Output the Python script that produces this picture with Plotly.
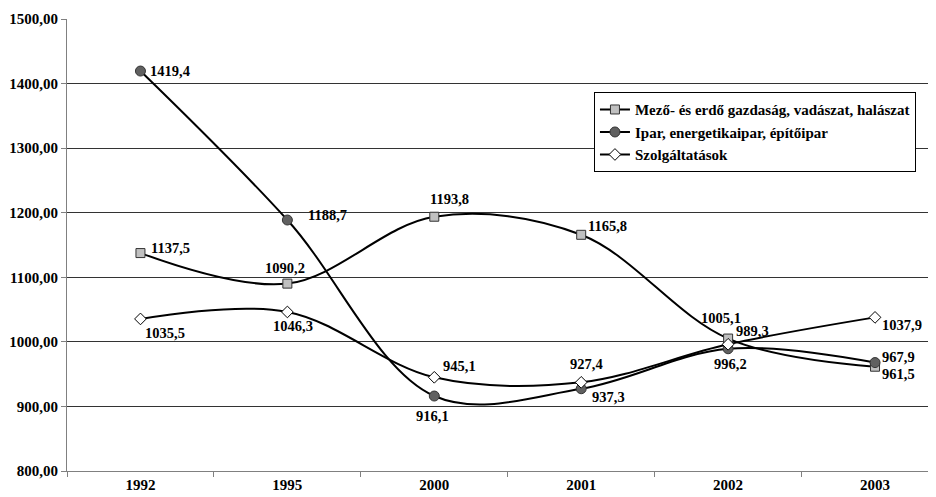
import plotly.graph_objects as go

years = ["1992", "1995", "2000", "2001", "2002", "2003"]
mezo = [1137.5, 1090.2, 1193.8, 1165.8, 1005.1, 961.5]
ipar = [1419.4, 1188.7, 916.1, 927.4, 989.3, 967.9]
szolg = [1035.5, 1046.3, 945.1, 937.3, 996.2, 1037.9]
names = ["Mező- és erdő gazdaság, vadászat, halászat",
         "Ipar, energetikaipar, építőipar",
         "Szolgáltatások"]
y_ticks = [800, 900, 1000, 1100, 1200, 1300, 1400, 1500]

# label offsets (px) relative to the points: (dx, dy) with dy downward
off_mezo = [(30, -5), (-2, -16), (15, -18), (26, -9), (-7, -21), (23, 7)]
off_ipar = [(30, 0), (40, -5), (-2, 20), (5, -25), (24, -18), (23, -6)]
off_szolg = [(25, 14), (6, 14), (25, -11), (27, 15), (2, 20), (27, 8)]

FONT = "Liberation Serif, Times New Roman, serif"

def fmt(v):
    return f"{v:.1f}".replace(".", ",")

fig = go.Figure()
styles = [
    (mezo, dict(symbol="square", size=9, color="#c0c0c0", line=dict(color="#333", width=1))),
    (ipar, dict(symbol="circle", size=10, color="#606060", line=dict(color="#333", width=1))),
    (szolg, dict(symbol="diamond", size=9, color="white", line=dict(color="#000", width=1))),
]
for i, (vals, mk) in enumerate(styles):
    fig.add_trace(go.Scatter(
        x=years, y=vals, name=names[i], mode="lines+markers",
        line=dict(color="black", width=2, shape="spline", smoothing=1),
        marker=mk, legendgroup=f"g{i}", cliponaxis=False,
    ))

annotations = []
for vals, offs in [(mezo, off_mezo), (ipar, off_ipar), (szolg, off_szolg)]:
    for idx, (v, (dx, dy)) in enumerate(zip(vals, offs)):
        annotations.append(dict(
            x=idx, y=v, xref="x", yref="y", text=fmt(v), showarrow=False,
            xshift=dx, yshift=-dy,
            font=dict(family=FONT, size=14.5, color="black", weight="bold"),
        ))

fig.update_layout(
    width=928, height=489,
    margin=dict(l=59, r=0, t=11, b=26),
    paper_bgcolor="white", plot_bgcolor="white",
    font=dict(family=FONT, size=14, color="black", weight="bold"),
    showlegend=True,
    legend=dict(
        x=0.6064, y=0.838, xanchor="left", yanchor="top",
        bgcolor="white", bordercolor="black", borderwidth=1,
        font=dict(family=FONT, size=15, color="black", weight="bold"),
        traceorder="grouped", tracegroupgap=0,
        itemwidth=30,
    ),
    annotations=annotations,
    xaxis=dict(
        type="category", range=[-0.5, 5.415],
        showline=True, linecolor="#808080", linewidth=1,
        ticks="outside", tickson="boundaries", ticklen=5, tickcolor="#808080",
        showgrid=False, zeroline=False,
        tickfont=dict(family=FONT, size=15, color="black", weight="bold"),
    ),
    yaxis=dict(
        range=[800, 1500], tickvals=y_ticks,
        ticktext=[f"{v},00" for v in y_ticks],
        showline=True, linecolor="#808080", linewidth=1,
        ticks="outside", ticklen=5, tickcolor="#808080",
        showgrid=True, gridcolor="#333", gridwidth=1,
        zeroline=False,
        tickfont=dict(family=FONT, size=15, color="black", weight="bold"),
    ),
)

fig.write_html("out.html")
